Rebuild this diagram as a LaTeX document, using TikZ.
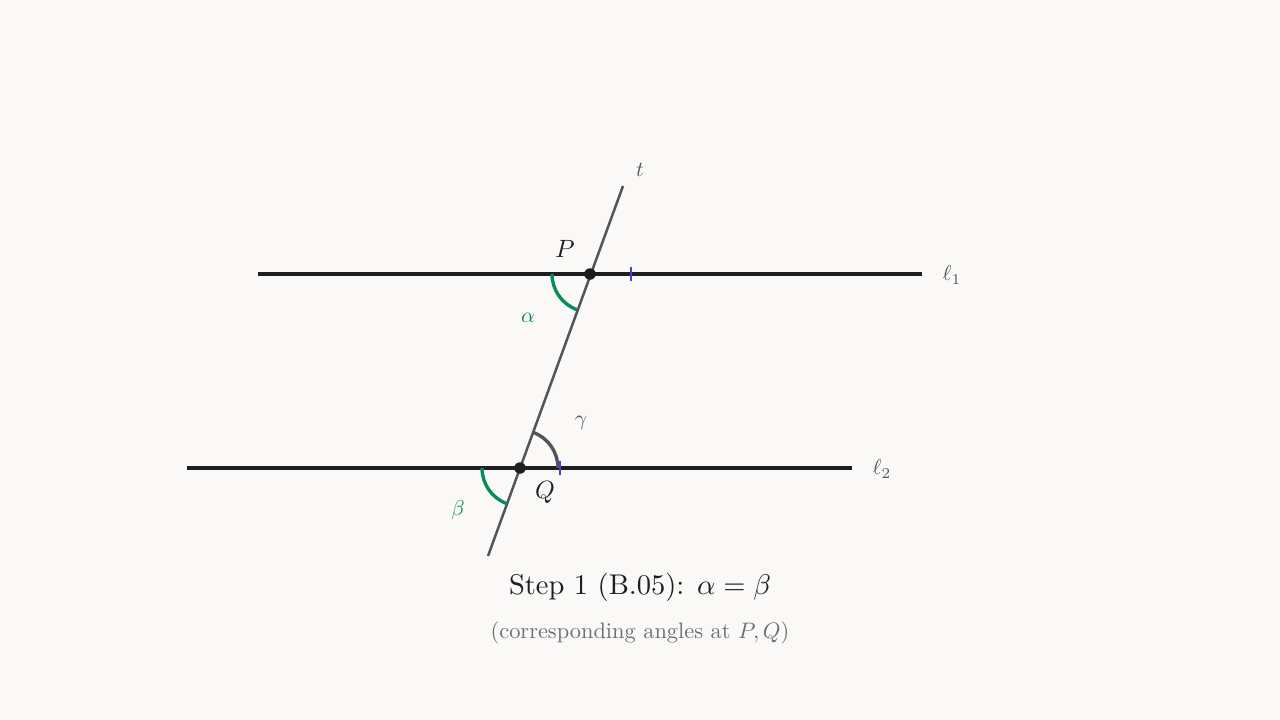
\documentclass[tikz,border=0pt]{standalone}
\usepackage{xcolor}
\definecolor{bg}{HTML}{FAF9F7}
\definecolor{lineblk}{HTML}{1E1E1E}
\definecolor{tgray}{HTML}{555555}
\definecolor{angg}{HTML}{0B8A5E}
\definecolor{tickb}{HTML}{4A3FD0}
\definecolor{subg}{HTML}{6E6E6E}
\begin{document}
\begin{tikzpicture}[x=1pt,y=-1pt,
  parline/.style={draw=lineblk,line width=3.4pt},
  transline/.style={draw=tgray,line width=2.5pt},
  greenarc/.style={draw=angg,line width=3.4pt},
  grayarc/.style={draw=tgray,line width=3.4pt},
  tickmark/.style={draw=tickb,line width=2.4pt},
  dotpt/.style={circle,fill=lineblk,inner sep=0pt,minimum size=11.5pt},
  lbl/.style={inner sep=0pt,scale=2.15},
  ptlbl/.style={inner sep=0pt,scale=2.5}]
\fill[bg] (0,0) rectangle (1280,720);
\useasboundingbox (0,0) rectangle (1280,720);
% coordinates
\coordinate (L1a) at (258,274);
\coordinate (L1b) at (922,274);
\coordinate (L2a) at (187,468);
\coordinate (L2b) at (852,468);
\coordinate (Ta) at (488,556);
\coordinate (Tb) at (623,186);
\coordinate (P) at (590,274);
\coordinate (Q) at (520,468);
% lines
\draw[parline] (L1a) -- (L1b);
\draw[parline] (L2a) -- (L2b);
\draw[transline] (Ta) -- (Tb);
% angle arcs
\draw[greenarc] ([xshift=-38pt]P) arc[start angle=180,end angle=110,radius=38];
\draw[greenarc] ([xshift=-38pt]Q) arc[start angle=180,end angle=110,radius=38];
\draw[grayarc] ([xshift=38pt]Q) arc[start angle=0,end angle=-70,radius=38];
% ticks
\coordinate (TP) at (631,274);
\coordinate (TQ) at (560,468);
\draw[tickmark] ([yshift=-7pt]TP) -- ([yshift=7pt]TP);
\draw[tickmark] ([yshift=-7pt]TQ) -- ([yshift=7pt]TQ);
% points
\node[dotpt] (Pd) at (P) {};
\node[dotpt] (Qd) at (Q) {};
% labels
\node[ptlbl,text=lineblk] (Pl) at (565,249) {$P$};
\node[ptlbl,text=lineblk] (Ql) at (545,492) {$Q$};
\node[lbl,text=angg] (al) at (528,318) {$\alpha$};
\node[lbl,text=angg] (bl) at (458,510) {$\beta$};
\node[lbl,text=tgray] (gl) at (581,423) {$\gamma$};
\node[lbl,text=tgray] (l1) at (952,275) {$\ell_1$};
\node[lbl,text=tgray] (l2) at (882,469) {$\ell_2$};
\node[lbl,text=tgray] (tl) at (640,170) {$t$};
% captions
\node[inner sep=0pt,text=lineblk,scale=2.85] (title) at (640,587) {Step 1 (B.05): $\alpha=\beta$};
\node[inner sep=0pt,text=subg,scale=2.24] (sub) at (640,633) {(corresponding angles at $P,Q$)};
\end{tikzpicture}
\end{document}
